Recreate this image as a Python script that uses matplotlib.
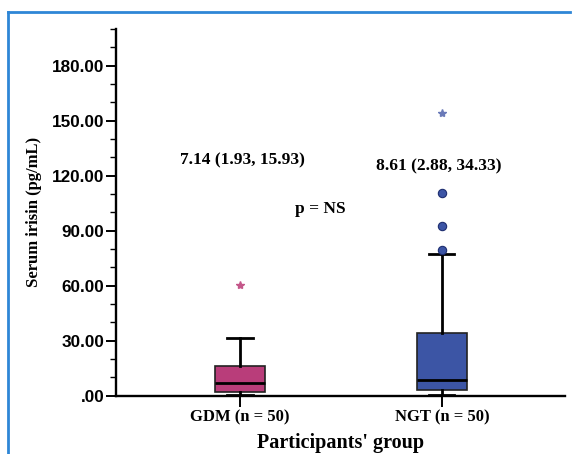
import numpy as np
import matplotlib
matplotlib.use("Agg")
import matplotlib.pyplot as plt
from matplotlib.lines import Line2D
from matplotlib.ticker import MultipleLocator, FuncFormatter

# values
groups = ["GDM (n = 50)", "NGT (n = 50)"]
medians = [7.14, 8.61]
q1 = [1.93, 2.88]
q3 = [15.93, 34.33]
whis_low = [0.3, 0.3]
whis_high = [31.6, 77.1]
outliers = [[], [79.5, 92.6, 110.7]]
extremes = [[60.4], [154.0]]
summary = ["7.14 (1.93, 15.93)", "8.61 (2.88, 34.33)"]
box_colors = ["#B93D7A", "#3C55A5"]
star_colors = ["#C4578A", "#6A7AB8"]

sans = ["Liberation Sans", "DejaVu Sans"]
serif = ["Liberation Serif", "DejaVu Serif"]

fig = plt.figure(figsize=(5.72, 4.54), dpi=100)
ax = fig.add_axes([0.2028, 0.1284, 0.7850, 0.8077])

stats = []
for i in range(len(groups)):
    stats.append(dict(med=medians[i], q1=q1[i], q3=q3[i], whislo=whis_low[i],
                      whishi=whis_high[i], fliers=outliers[i]))

pos = np.arange(1, len(groups) + 1)
bp = ax.bxp(stats, positions=pos, widths=0.25, capwidths=0.125, patch_artist=True,
            boxprops=dict(linewidth=1.2, edgecolor="#222222"),
            medianprops=dict(color="black", linewidth=2),
            whiskerprops=dict(color="black", linewidth=2),
            capprops=dict(color="black", linewidth=2),
            flierprops=dict(marker="o", markersize=6, markerfacecolor="#3C55A5",
                            markeredgecolor="#1E2E70", markeredgewidth=0.8))
for patch, c in zip(bp["boxes"], box_colors):
    patch.set_facecolor(c)

for i in range(len(groups)):
    if extremes[i]:
        ax.plot([pos[i]] * len(extremes[i]), extremes[i], linestyle="none",
                marker="*", markersize=6, color=star_colors[i])

# median (IQR) labels
ax.text(1.01, 128.6, summary[0], ha="center", va="center", fontsize=12.5,
        fontweight="bold", family=serif)
ax.text(1.985, 125.3, summary[1], ha="center", va="center", fontsize=12.5,
        fontweight="bold", family=serif)
ax.text(1.396, 101.8, "p = NS", ha="center", va="center", fontsize=12.5,
        fontweight="bold", family=serif)

ax.set_xlim(0.386, 2.61)
ax.set_ylim(0, 200)
ax.yaxis.set_major_locator(MultipleLocator(30))
ax.yaxis.set_minor_locator(MultipleLocator(10))
ax.yaxis.set_major_formatter(FuncFormatter(lambda v, p: ".00" if v == 0 else "%.2f" % v))
ax.set_xticks(pos)
ax.set_xticklabels(groups, fontsize=12, fontweight="bold", family=serif)
for lab in ax.get_yticklabels():
    lab.set_fontsize(12.3)
    lab.set_fontweight("bold")
    lab.set_family(sans)

ax.spines["top"].set_visible(False)
ax.spines["right"].set_visible(False)
ax.spines["left"].set_linewidth(1.7)
ax.spines["bottom"].set_linewidth(1.7)
ax.tick_params(axis="y", which="major", length=7.5, width=1.4, direction="out", pad=1)
ax.tick_params(axis="y", which="minor", length=4, width=1.0)
ax.tick_params(axis="x", length=8, width=1.4, pad=2)

ax.set_ylabel("Serum irisin (pg/mL)", fontsize=12, fontweight="bold", family=serif, labelpad=7)
ax.set_xlabel("Participants' group", fontsize=14.5, fontweight="bold", family=serif, labelpad=5)

# blue frame (left and top edges)
fig.add_artist(Line2D([8 / 572, 8 / 572], [0, 1 - 12 / 454], color="#2E86D6", linewidth=2))
fig.add_artist(Line2D([8 / 572, 570 / 572], [1 - 12 / 454, 1 - 12 / 454], color="#2E86D6", linewidth=2))

plt.savefig("out.png", dpi=100)
